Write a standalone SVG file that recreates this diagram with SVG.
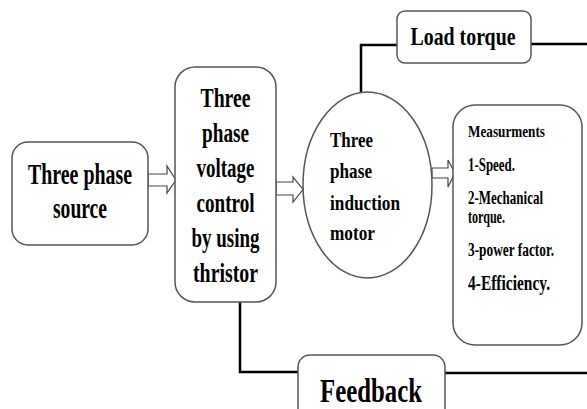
<svg xmlns="http://www.w3.org/2000/svg" width="587" height="409" viewBox="0 0 587 409">
<style>
.box{fill:#fff;stroke:#555;stroke-width:1.5}
.conn{fill:none;stroke:#000;stroke-width:2.5}
.arr{fill:#fff;stroke:#444;stroke-width:1.2}
text{font-family:"Liberation Serif","Times New Roman",serif;font-weight:bold;fill:#000}
.c{text-anchor:middle}
</style>
<rect width="587" height="409" fill="#fff"/>
<g id="connectors">
<path class="conn" d="M361 92 V45 H397"/>
<path class="conn" d="M531 44 H587"/>
<path class="conn" d="M240 302 V372 H298"/>
<path class="conn" d="M445 373 H587"/>
<polygon class="arr" points="148,174 167,174 167,166 176,180 167,193 167,186 148,186"/>
<polygon class="arr" points="276,182 293,182 293,177 303,189.5 293,202 293,195 276,195"/>
<polygon class="arr" points="432,168 448,168 448,160 455,173 448,187 448,178 432,178"/>
</g>
<g id="source">
<rect class="box" x="12" y="142" width="136" height="103" rx="16"/>
<text class="c" x="80" y="184" font-size="29" textLength="104" lengthAdjust="spacingAndGlyphs">Three phase</text>
<text class="c" x="80" y="218" font-size="29" textLength="54" lengthAdjust="spacingAndGlyphs">source</text>
</g>
<g id="control">
<rect class="box" x="175" y="67" width="101" height="235" rx="20"/>
<text class="c" x="225.5" y="107" font-size="27" textLength="50" lengthAdjust="spacingAndGlyphs">Three</text>
<text class="c" x="225.5" y="142" font-size="27" textLength="47" lengthAdjust="spacingAndGlyphs">phase</text>
<text class="c" x="225.5" y="177" font-size="27" textLength="58" lengthAdjust="spacingAndGlyphs">voltage</text>
<text class="c" x="225.5" y="212" font-size="27" textLength="58" lengthAdjust="spacingAndGlyphs">control</text>
<text class="c" x="225.5" y="247" font-size="27" textLength="68" lengthAdjust="spacingAndGlyphs">by using</text>
<text class="c" x="225.5" y="282" font-size="27" textLength="65" lengthAdjust="spacingAndGlyphs">thristor</text>
</g>
<g id="motor">
<ellipse class="box" cx="367.5" cy="185" rx="64.5" ry="93"/>
<text x="330" y="147" font-size="22" textLength="43" lengthAdjust="spacingAndGlyphs">Three</text>
<text x="330" y="178" font-size="22" textLength="42" lengthAdjust="spacingAndGlyphs">phase</text>
<text x="330" y="210" font-size="22" textLength="70" lengthAdjust="spacingAndGlyphs">induction</text>
<text x="330" y="240" font-size="22" textLength="45" lengthAdjust="spacingAndGlyphs">motor</text>
</g>
<g id="load">
<rect class="box" x="397" y="11" width="134" height="52" rx="8"/>
<text class="c" x="463" y="45" font-size="25" textLength="105" lengthAdjust="spacingAndGlyphs">Load torque</text>
</g>
<g id="measurements">
<rect class="box" x="453" y="105" width="129" height="240" rx="22"/>
<text x="468" y="137" font-size="17" textLength="77" lengthAdjust="spacingAndGlyphs">Measurments</text>
<text x="468" y="171" font-size="18" textLength="47" lengthAdjust="spacingAndGlyphs">1-Speed.</text>
<text x="468" y="204" font-size="18" textLength="75" lengthAdjust="spacingAndGlyphs">2-Mechanical</text>
<text x="468" y="223" font-size="18" textLength="37" lengthAdjust="spacingAndGlyphs">torque.</text>
<text x="468" y="256" font-size="18" textLength="86" lengthAdjust="spacingAndGlyphs">3-power factor.</text>
<text x="468" y="290" font-size="22" textLength="82" lengthAdjust="spacingAndGlyphs">4-Efficiency.</text>
</g>
<g id="feedback">
<rect class="box" x="298" y="355" width="147" height="70" rx="12"/>
<text class="c" x="371" y="402" font-size="34" textLength="102" lengthAdjust="spacingAndGlyphs">Feedback</text>
</g>
</svg>
